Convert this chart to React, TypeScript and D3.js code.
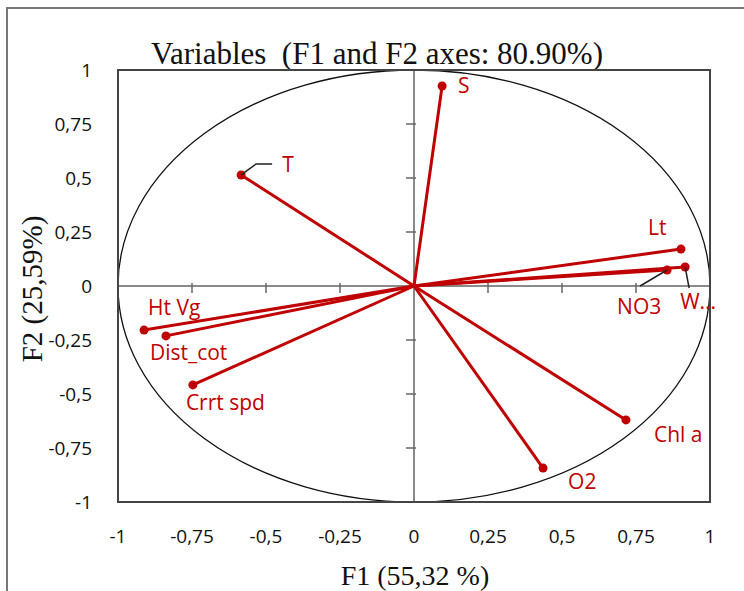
import React from "react";
import * as d3 from "d3";

// ---- data ----
const variables = ["S", "T", "Lt", "NO3", "W...", "Ht Vg", "Dist_cot", "Crrt spd", "Chl a", "O2"];
const f1Values = [0.095, -0.584, 0.902, 0.855, 0.916, -0.912, -0.838, -0.747, 0.716, 0.436];
const f2Values = [0.926, 0.514, 0.171, 0.074, 0.088, -0.204, -0.231, -0.458, -0.620, -0.843];
const tickValues = [-1, -0.75, -0.5, -0.25, 0, 0.25, 0.5, 0.75, 1];
const tickLabels = ["-1", "-0,75", "-0,5", "-0,25", "0", "0,25", "0,5", "0,75", "1"];
const chartTitle = "Variables  (F1 and F2 axes: 80.90%)";
const xTitle = "F1 (55,32 %)";
const yTitle = "F2 (25,59%)";

// ---- layout (label placement, px offsets from point) ----
const labelOffsets: Record<string, [number, number]> = {
  S: [16, 7],
  T: [41, -3],
  Lt: [-33, -14],
  NO3: [-50, 44],
  "W...": [-5, 42],
  "Ht Vg": [4, -15],
  Dist_cot: [-16, 24],
  "Crrt spd": [-7, 25],
  "Chl a": [28, 22],
  O2: [25, 21],
};
const leaders: Record<string, [number, number][]> = {
  T: [[0, 0], [15, -11], [31, -11]],
  NO3: [[0, 0], [-27, 16]],
  "W...": [[0, 0], [4, 21]],
};

const W = 744, H = 591;
const L = 118, R = 710, T0 = 70, B = 502;
const RED = "#c00000";
const SANS = "'Open Sans', 'Noto Sans', sans-serif";
const SERIF = "'Liberation Serif', 'Times New Roman', serif";

export default function App() {
  const x = d3.scaleLinear().domain([-1, 1]).range([L, R]);
  const y = d3.scaleLinear().domain([-1, 1]).range([B, T0]);
  const x0 = x(0), y0 = y(0);

  return (
    <svg width={W} height={H} style={{ position: "absolute", left: 0, top: 0, background: "#fff" }}>
      {/* outer frame */}
      <path d={`M7,${H} L7,8 L${W},8`} fill="none" stroke="#777" strokeWidth={2} />
      {/* title */}
      <text x={377} y={64} textAnchor="middle" fontFamily={SERIF} fontSize={31} fill="#111" style={{ whiteSpace: "pre" }}>
        {chartTitle}
      </text>
      {/* axes inside */}
      <line x1={L} x2={R} y1={y0} y2={y0} stroke="#8a8a8a" strokeWidth={2} />
      <line x1={x0} x2={x0} y1={T0} y2={B} stroke="#8a8a8a" strokeWidth={2} />
      {tickValues.filter(v => v !== 0 && Math.abs(v) !== 1).map(v => (
        <g key={"t" + v}>
          <line x1={x(v)} x2={x(v)} y1={y0 - 3} y2={y0 + 7} stroke="#666" strokeWidth={1.5} />
          <line x1={x0 - 8} x2={x0 + 2} y1={y(v)} y2={y(v)} stroke="#666" strokeWidth={1.5} />
        </g>
      ))}
      {/* correlation circle */}
      <ellipse cx={x0} cy={y0} rx={x(1) - x0} ry={y0 - y(1)} fill="none" stroke="#111" strokeWidth={1.3} />
      {/* plot frame */}
      <rect x={L} y={T0} width={R - L} height={B - T0} fill="none" stroke="#444" strokeWidth={2} />
      {/* tick labels */}
      {tickValues.map((v, i) => (
        <text key={"xl" + v} x={x(v)} y={543} textAnchor="middle" fontFamily={SANS} fontSize={19} fill="#111">
          {tickLabels[i]}
        </text>
      ))}
      {tickValues.map((v, i) => (
        <text key={"yl" + v} x={92} y={y(v) + 6.5} textAnchor="end" fontFamily={SANS} fontSize={19} fill="#111">
          {tickLabels[i]}
        </text>
      ))}
      {/* axis titles */}
      <text x={415} y={585} textAnchor="middle" fontFamily={SERIF} fontSize={28} fill="#111">{xTitle}</text>
      <text transform={`translate(42,${289}) rotate(-90)`} textAnchor="middle" fontFamily={SERIF} fontSize={29} fill="#111">{yTitle}</text>
      {/* vectors */}
      {variables.map((name, i) => {
        const px = x(f1Values[i]), py = y(f2Values[i]);
        const lead = leaders[name];
        const off = labelOffsets[name];
        return (
          <g key={name}>
            <line x1={x0} y1={y0} x2={px} y2={py} stroke={RED} strokeWidth={3} />
            <circle cx={px} cy={py} r={4.5} fill={RED} />
            {lead && (
              <polyline points={lead.map(([dx, dy]) => `${px + dx},${py + dy}`).join(" ")} fill="none" stroke="#222" strokeWidth={1.5} />
            )}
            <text x={px + off[0]} y={py + off[1]} fontFamily={SANS} fontSize={21} fill={RED}>{name}</text>
          </g>
        );
      })}
    </svg>
  );
}
